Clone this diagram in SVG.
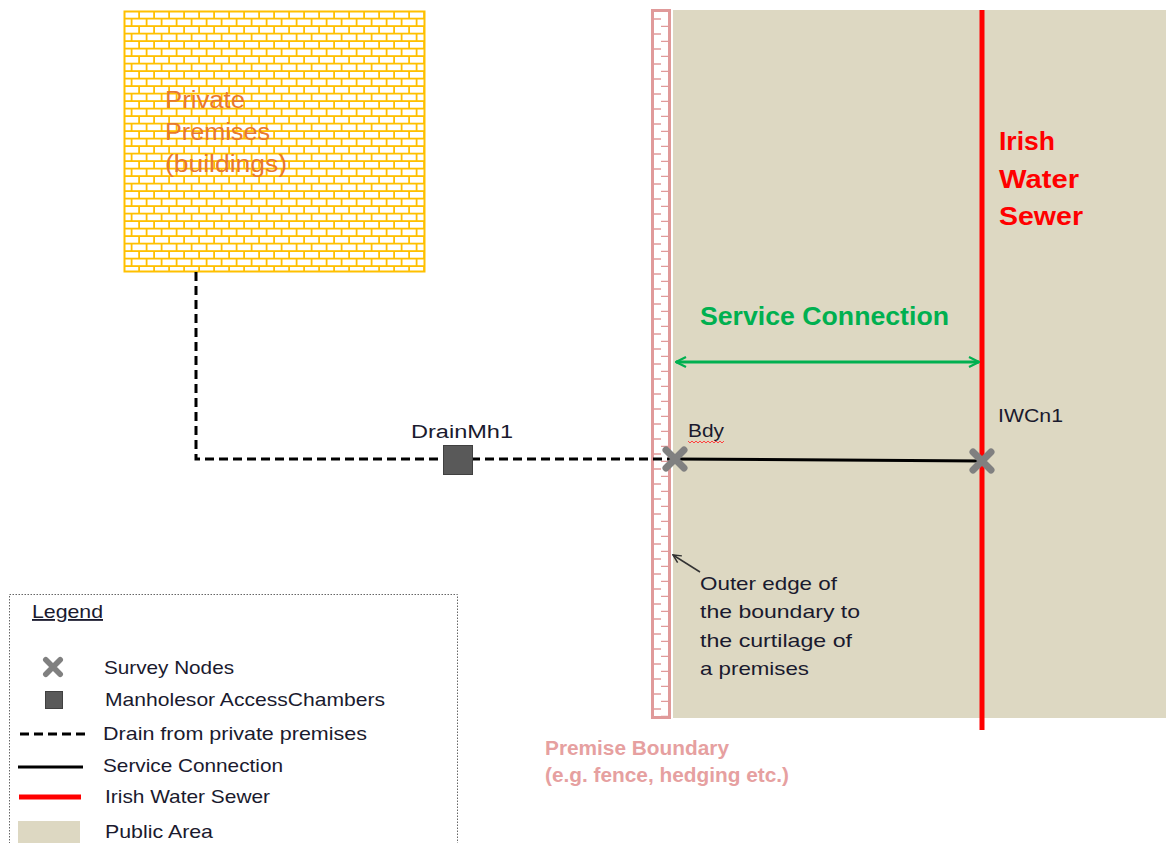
<svg xmlns="http://www.w3.org/2000/svg" width="1166" height="843" viewBox="0 0 1166 843">
<defs>
<pattern id="brick" patternUnits="userSpaceOnUse" x="124" y="11" width="30" height="15">
<rect width="30" height="15" fill="#FFC000"/>
<rect x="1" y="1" width="13.2" height="5.7" fill="#FFFFFF"/>
<rect x="16" y="1" width="13.2" height="5.7" fill="#FFFFFF"/>
<rect x="-6.5" y="8.5" width="13.2" height="5.7" fill="#FFFFFF"/>
<rect x="8.5" y="8.5" width="13.2" height="5.7" fill="#FFFFFF"/>
<rect x="23.5" y="8.5" width="13.2" height="5.7" fill="#FFFFFF"/>
</pattern>
<pattern id="ruler" patternUnits="userSpaceOnUse" x="651" y="12" width="20" height="15">
<line x1="2" y1="7" x2="10" y2="7" stroke="#E09A9A" stroke-width="1.5"/>
<line x1="10" y1="14.5" x2="18" y2="14.5" stroke="#E09A9A" stroke-width="1.5"/>
</pattern>
<marker id="openArrow" viewBox="0 0 12 12" refX="11" refY="6" markerWidth="12" markerHeight="12" markerUnits="userSpaceOnUse" orient="auto-start-reverse">
<path d="M1,1 L11,6 L1,11" fill="none" stroke="#00B050" stroke-width="2.2"/>
</marker>
<marker id="blackArrow" viewBox="0 0 10 10" refX="9" refY="5" markerWidth="10" markerHeight="10" markerUnits="userSpaceOnUse" orient="auto">
<path d="M1,1 L9,5 L1,9" fill="none" stroke="#333333" stroke-width="1.5"/>
</marker>
<g id="xmark">
<path d="M-9,-9 L9,9 M-9,9 L9,-9" stroke="#808080" stroke-width="7" stroke-linecap="round"/>
</g>
</defs>
<style>
.t{font-family:"Liberation Sans","DejaVu Sans",sans-serif;fill:#1a1a2e}
.lg{font-size:18.5px}
.drain{stroke:#000;stroke-width:3;stroke-dasharray:9 5;fill:none}
.svc{stroke:#000;stroke-width:3;fill:none}
.sewer{stroke:#FF0000;stroke-width:5;fill:none}
.pp{font-size:23px;fill:#E8782E}
.iw{font-size:26px;font-weight:bold;fill:#FF0000}
.pb{font-size:19.5px;font-weight:bold;fill:#E6A0A0}
.note{font-size:18.5px}
</style>
<rect width="1166" height="843" fill="#FFFFFF"/>

<g id="public-area">
<rect x="673" y="10" width="493" height="708" fill="#DDD8C2"/>
</g>

<g id="premise-boundary">
<rect x="652.5" y="10.5" width="17" height="707" fill="#FFFFFF" stroke="#E09A9A" stroke-width="3"/>
<rect x="653" y="12" width="16" height="704" fill="url(#ruler)"/>
<text class="t pb" x="545" y="755" textLength="184" lengthAdjust="spacingAndGlyphs">Premise Boundary</text>
<text class="t pb" x="545" y="782" textLength="244" lengthAdjust="spacingAndGlyphs">(e.g. fence, hedging etc.)</text>
</g>

<g id="private-premises">
<rect x="124.5" y="11.5" width="300" height="260" fill="url(#brick)" stroke="#FFC000" stroke-width="2"/>
<text class="t pp" x="165" y="108" textLength="80" lengthAdjust="spacingAndGlyphs">Private</text>
<text class="t pp" x="165" y="140" textLength="105" lengthAdjust="spacingAndGlyphs">Premises</text>
<text class="t pp" x="165" y="172" textLength="122" lengthAdjust="spacingAndGlyphs">(buildings)</text>
</g>

<g id="sewer">
<line class="sewer" x1="982" y1="10" x2="982" y2="730"/>
<text class="t iw" x="999" y="150" textLength="56" lengthAdjust="spacingAndGlyphs">Irish</text>
<text class="t iw" x="999" y="188" textLength="80" lengthAdjust="spacingAndGlyphs">Water</text>
<text class="t iw" x="999" y="225" textLength="84" lengthAdjust="spacingAndGlyphs">Sewer</text>
</g>

<g id="connectors">
<path class="drain" d="M196,272 L196,459 L672,459"/>
<line class="svc" x1="675" y1="459" x2="982" y2="461"/>
<line x1="676" y1="362" x2="979" y2="362" stroke="#00B050" stroke-width="3" marker-start="url(#openArrow)" marker-end="url(#openArrow)"/>
<line x1="700" y1="572" x2="673" y2="555" stroke="#333333" stroke-width="1.5" marker-end="url(#blackArrow)"/>
</g>

<g id="service-connection-label">
<text class="t" x="700" y="325" style="font-size:25px;font-weight:bold;fill:#00B050" textLength="249" lengthAdjust="spacingAndGlyphs">Service Connection</text>
</g>

<g id="drainmh1">
<rect x="443.5" y="445.5" width="29" height="29" fill="#595959" stroke="#404040" stroke-width="1"/>
<text class="t" x="411" y="438" style="font-size:18px" textLength="102" lengthAdjust="spacingAndGlyphs">DrainMh1</text>
</g>

<g id="bdy">
<use href="#xmark" x="675" y="459"/>
<text class="t" x="688" y="437" style="font-size:18px" textLength="36" lengthAdjust="spacingAndGlyphs">Bdy</text>
<path d="M688,441 l2,2 l2,-2 l2,2 l2,-2 l2,2 l2,-2 l2,2 l2,-2 l2,2 l2,-2 l2,2 l2,-2 l2,2 l2,-2 l2,2 l2,-2 l2,2 l2,-2" fill="none" stroke="#FF4040" stroke-width="1"/>
</g>

<g id="iwcn1">
<use href="#xmark" x="982" y="461"/>
<text class="t" x="998" y="422" style="font-size:18px" textLength="65" lengthAdjust="spacingAndGlyphs">IWCn1</text>
</g>

<g id="boundary-note">
<text class="t note" x="700" y="590" textLength="137" lengthAdjust="spacingAndGlyphs">Outer edge of</text>
<text class="t note" x="700" y="618" textLength="160" lengthAdjust="spacingAndGlyphs">the boundary to</text>
<text class="t note" x="700" y="647" textLength="152" lengthAdjust="spacingAndGlyphs">the curtilage of</text>
<text class="t note" x="700" y="675" textLength="109" lengthAdjust="spacingAndGlyphs">a premises</text>
</g>

<g id="legend">
<rect x="9.5" y="594.5" width="448" height="260" fill="#FFFFFF" stroke="#666666" stroke-width="1" stroke-dasharray="1.5 1.5"/>
<text class="t lg" x="32" y="618" text-decoration="underline" textLength="71" lengthAdjust="spacingAndGlyphs">Legend</text>
<use href="#xmark" transform="translate(53,667) scale(0.8)"/>
<text class="t lg" x="104" y="674" textLength="130" lengthAdjust="spacingAndGlyphs">Survey Nodes</text>
<rect x="45.5" y="691.5" width="17" height="17" fill="#595959" stroke="#404040" stroke-width="1"/>
<text class="t lg" x="105" y="706" textLength="280" lengthAdjust="spacingAndGlyphs">Manholesor AccessChambers</text>
<line class="drain" x1="20" y1="734" x2="85" y2="734"/>
<text class="t lg" x="103" y="740" textLength="264" lengthAdjust="spacingAndGlyphs">Drain from private premises</text>
<line class="svc" x1="18" y1="767" x2="83" y2="767"/>
<text class="t lg" x="103" y="772" textLength="180" lengthAdjust="spacingAndGlyphs">Service Connection</text>
<line class="sewer" x1="19" y1="797" x2="81" y2="797"/>
<text class="t lg" x="105" y="803" textLength="165" lengthAdjust="spacingAndGlyphs">Irish Water Sewer</text>
<rect x="18" y="821" width="62" height="22" fill="#DDD8C2"/>
<text class="t lg" x="105" y="838" textLength="108" lengthAdjust="spacingAndGlyphs">Public Area</text>
</g>
</svg>
